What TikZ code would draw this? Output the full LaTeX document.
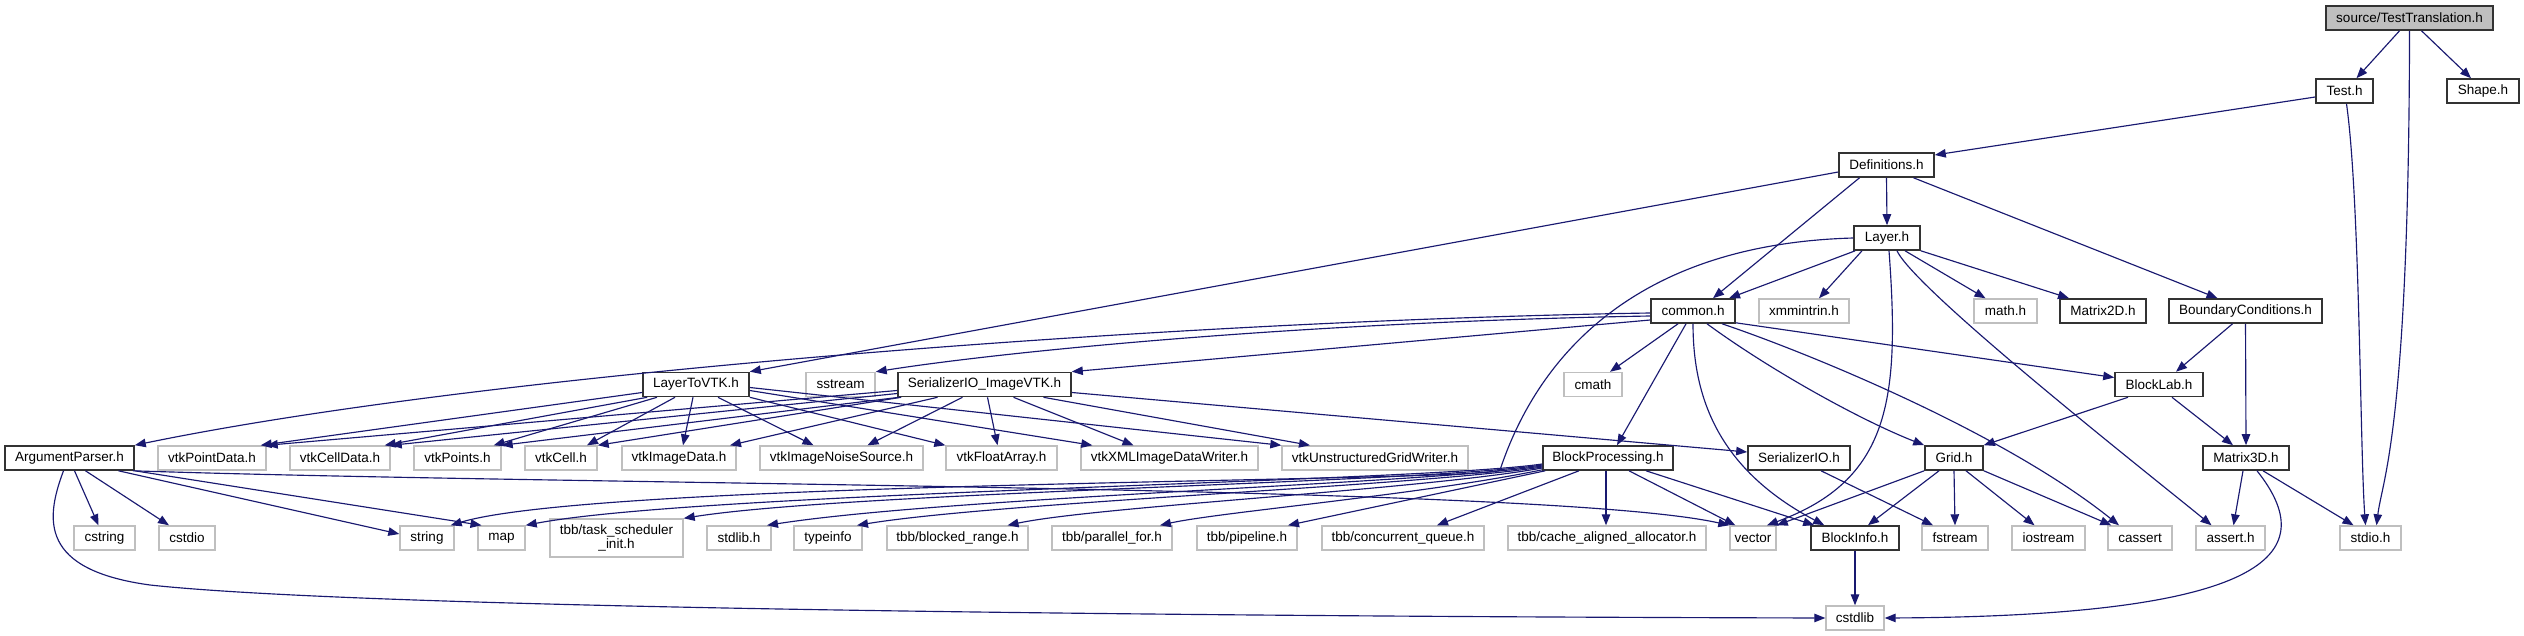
\documentclass[tikz,border=0pt]{standalone}
\usepackage{fontspec}
\setmainfont{Liberation Sans}
\usetikzlibrary{arrows.meta,calc}
\definecolor{edgec}{HTML}{191970}
\definecolor{greyb}{HTML}{BFBFBF}
\definecolor{docb}{HTML}{333333}
\begin{document}
\begin{tikzpicture}[x=1pt,y=-1pt,
  base/.style={rectangle, minimum height=24pt, inner sep=0pt, font=\fontsize{13.5}{14}\selectfont, text=black, fill=white},
  doc/.style={base, draw=docb, line width=1.6pt},
  sys/.style={base, draw=greyb, line width=1.4pt},
  e/.style={draw=edgec, line width=1.15pt, -{Triangle[length=11pt,width=8.5pt]}},
]
\useasboundingbox (0,0) rectangle (2524,636);
% row 1-4
\node[doc,fill=greyb,minimum width=167pt] (source) at (2409.5,18) {source/TestTranslation.h};
\node[doc,minimum width=57pt] (test) at (2344.5,91) {Test.h};
\node[doc,minimum width=72pt] (shape) at (2483,91) {Shape.h};
\node[doc,minimum width=95pt] (defs) at (1886.5,165) {Definitions.h};
\node[doc,minimum width=66pt] (layer) at (1887,238) {Layer.h};
\node[doc,minimum width=84pt] (common) at (1693,311) {common.h};
\node[sys,minimum width=90pt] (xmm) at (1804,311) {xmmintrin.h};
\node[sys,minimum width=63pt] (mathh) at (2005.5,311) {math.h};
\node[doc,minimum width=86pt] (matrix2d) at (2103,311) {Matrix2D.h};
\node[doc,minimum width=153pt] (boundary) at (2245.5,311) {BoundaryConditions.h};
\node[doc,minimum width=106pt] (ltv) at (696,384.5) {LayerToVTK.h};
\node[sys,minimum width=69pt] (sstream) at (840.5,384.5) {sstream};
\node[doc,minimum width=173pt] (serimg) at (984.5,384.5) {SerializerIO\_ImageVTK.h};
\node[sys,minimum width=58pt] (cmath) at (1593,384.5) {cmath};
\node[doc,minimum width=88pt] (blocklab) at (2159,384.5) {BlockLab.h};
% row 458
\node[doc,minimum width=129pt] (argparser) at (69.5,458) {ArgumentParser.h};
\node[sys,minimum width=108pt] (vtkpointdata) at (212,458) {vtkPointData.h};
\node[sys,minimum width=100pt] (vtkcelldata) at (340,458) {vtkCellData.h};
\node[sys,minimum width=87pt] (vtkpoints) at (457.5,458) {vtkPoints.h};
\node[sys,minimum width=72pt] (vtkcell) at (561,458) {vtkCell.h};
\node[sys,minimum width=114pt] (vtkimagedata) at (679,458) {vtkImageData.h};
\node[sys,minimum width=163pt] (vtknoise) at (841.5,458) {vtkImageNoiseSource.h};
\node[sys,minimum width=111pt] (vtkfloat) at (1001.5,458) {vtkFloatArray.h};
\node[sys,minimum width=177pt] (vtkxml) at (1169.5,458) {vtkXMLImageDataWriter.h};
\node[sys,minimum width=186pt] (vtkugw) at (1375,458) {vtkUnstructuredGridWriter.h};
\node[doc,minimum width=130pt] (blockproc) at (1608,458) {BlockProcessing.h};
\node[doc,minimum width=102pt] (serio) at (1799,458) {SerializerIO.h};
\node[doc,minimum width=58pt] (grid) at (1954,458) {Grid.h};
\node[doc,minimum width=86pt] (matrix3d) at (2246,458) {Matrix3D.h};
% row 538
\node[sys,minimum width=61pt] (cstring) at (104.5,538) {cstring};
\node[sys,minimum width=56pt] (cstdio) at (187,538) {cstdio};
\node[sys,minimum width=54pt] (string) at (427,538) {string};
\node[sys,minimum width=47pt] (map) at (501.5,538) {map};
\node[sys,minimum width=133pt,minimum height=38pt,align=center] (taskinit) at (616.5,538) {tbb/task\_scheduler\\\_init.h};
\node[sys,minimum width=64pt] (stdlib) at (739,538) {stdlib.h};
\node[sys,minimum width=68pt] (typeinfo) at (828,538) {typeinfo};
\node[sys,minimum width=141pt] (blockedrange) at (957.5,538) {tbb/blocked\_range.h};
\node[sys,minimum width=120pt] (parallelfor) at (1112,538) {tbb/parallel\_for.h};
\node[sys,minimum width=100pt] (pipeline) at (1247,538) {tbb/pipeline.h};
\node[sys,minimum width=162pt] (concqueue) at (1403,538) {tbb/concurrent\_queue.h};
\node[sys,minimum width=198pt] (cachealloc) at (1607,538) {tbb/cache\_aligned\_allocator.h};
\node[sys,minimum width=46pt] (vector) at (1753,538) {vector};
\node[doc,minimum width=88pt] (blockinfo) at (1855,538) {BlockInfo.h};
\node[sys,minimum width=66pt] (fstream) at (1955,538) {fstream};
\node[sys,minimum width=73pt] (iostream) at (2048.5,538) {iostream};
\node[sys,minimum width=64pt] (cassert) at (2140,538) {cassert};
\node[sys,minimum width=69pt] (asserth) at (2230.5,538) {assert.h};
\node[sys,minimum width=61pt] (stdio) at (2370.5,538) {stdio.h};
\node[sys,minimum width=58pt] (cstdlib) at (1855,618) {cstdlib};

% ---- edges ----
% source
\draw[e] ($(source.south)+(-10,0)$) -- ($(test.north)+(12,0)$);
\draw[e] ($(source.south)+(12,0)$) -- ($(shape.north)+(-12,0)$);
\draw[e] (source.south) .. controls (2409,430) and (2382,480) .. ($(stdio.north)+(6,0)$);
% Test
\draw[e] ($(test.west)+(0,6)$) -- ($(defs.east)+(0,-10)$);
\draw[e] ($(test.south)+(2,0)$) .. controls (2360,200) and (2360,450) .. ($(stdio.north)+(-5,0)$);
% Definitions
\draw[e] (defs.south) -- (layer.north);
\draw[e] ($(defs.south)+(-27,0)$) -- ($(common.north)+(20,0)$);
\draw[e] ($(defs.west)+(0,7)$) -- (ltv.north east);
\draw[e] ($(defs.south)+(27,0)$) -- ($(boundary.north)+(-28,0)$);
% Layer
\draw[e] ($(layer.south west)+(2,0)$) -- ($(common.north)+(36,0)$);
\draw[e] ($(layer.south)+(-25,0)$) -- ($(xmm.north)+(15,0)$);
\draw[e] ($(layer.south)+(18,0)$) -- ($(mathh.north)+(-20,0)$);
\draw[e] (layer.south east) -- ($(matrix2d.north)+(-34,0)$);
\draw[e] ($(layer.south)+(10,0)$) .. controls (1915,290) and (2150,475) .. ($(asserth.north)+(-19,0)$);
\draw[e] ($(layer.south)+(2,0)$) .. controls (1900,400) and (1890,480) .. ($(vector.north)+(14,0)$);
\draw[e] (layer.west) .. controls (1600,245) and (1525,395) .. (1500,470)
   .. controls (1494,482) and (600,480) .. ($(string.north east)+(-4,0)$);
% BoundaryConditions, BlockLab, Matrix3D
\draw[e] ($(boundary.south)+(-13,0)$) -- ($(blocklab.north)+(17,0)$);
\draw[e] (boundary.south) -- (matrix3d.north);
\draw[e] ($(blocklab.south)+(-31,0)$) -- (grid.north east);
\draw[e] ($(blocklab.south)+(13,0)$) -- ($(matrix3d.north)+(-13,0)$);
\draw[e] ($(matrix3d.south)+(-3,0)$) -- ($(asserth.north)+(3,0)$);
\draw[e] ($(matrix3d.south)+(17,0)$) -- ($(stdio.north)+(-17,0)$);
\draw[e] ($(matrix3d.south)+(11,0)$) .. controls (2320,550) and (2280,616) .. (cstdlib.east);
% Grid
\draw[e] ($(grid.south)+(-15,0)$) -- ($(blockinfo.north)+(13,0)$);
\draw[e] (grid.south) -- (fstream.north);
\draw[e] ($(grid.south)+(12,0)$) -- ($(iostream.north)+(-14,0)$);
\draw[e] (grid.south east) -- ($(cassert.north west)+(4,0)$);
\draw[e] (grid.south west) -- (vector.north east);
\draw[e] (blockinfo.south) -- (cstdlib.north);
\draw[e] ($(serio.south)+(22,0)$) -- ($(fstream.north)+(-22,0)$);
% common
\draw[e] ($(common.west)+(0,2)$) .. controls (1200,320) and (500,370) .. (argparser.north east);
\draw[e] ($(common.west)+(0,5)$) .. controls (1300,322) and (1000,352) .. (sstream.north east);
\draw[e] ($(common.west)+(0,9)$) -- (serimg.north east);
\draw[e] ($(common.south)+(-15,0)$) -- ($(cmath.north)+(17,0)$);
\draw[e] ($(common.south)+(-7,0)$) -- ($(blockproc.north)+(9,0)$);
\draw[e] (common.south) .. controls (1693,400) and (1720,470) .. ($(blockinfo.north west)+(14,0)$);
\draw[e] ($(common.south)+(14,0)$) .. controls (1770,370) and (1860,420) .. (grid.north west);
\draw[e] ($(common.south)+(29,0)$) .. controls (1800,350) and (2000,430) .. ($(cassert.north)+(-21,0)$);
\draw[e] ($(common.south east)+(0,-1)$) -- ($(blocklab.west)+(0,-7)$);
% ArgumentParser
\draw[e] ($(argparser.south)+(5,0)$) -- ($(cstring.north)+(-6,0)$);
\draw[e] ($(argparser.south)+(16,0)$) -- ($(cstdio.north)+(-18,0)$);
\draw[e] ($(argparser.south)+(49,0)$) -- ($(string.west)+(0,-4)$);
\draw[e] (argparser.south east) -- ($(map.north)+(-20,0)$);
\draw[e] ($(argparser.south east)+(-2,0)$) .. controls (600,486) and (1550,485) .. (vector.north west);
\draw[e] ($(argparser.south)+(-6,0)$) .. controls (45,520) and (40,570) .. (150,585)
   .. controls (400,612) and (1400,617) .. (cstdlib.west);
% LayerToVTK
\draw[e] ($(ltv.west)+(0,8)$) -- ($(vtkpointdata.north east)+(-6,0)$);
\draw[e] ($(ltv.south west)+(5,0)$) -- ($(vtkcelldata.north east)+(-6,0)$);
\draw[e] ($(ltv.south)+(-39,0)$) -- ($(vtkpoints.north east)+(-8,0)$);
\draw[e] ($(ltv.south)+(-21,0)$) -- ($(vtkcell.north)+(26,0)$);
\draw[e] ($(ltv.south)+(-3,0)$) -- ($(vtkimagedata.north)+(4,0)$);
\draw[e] ($(ltv.south)+(22,0)$) -- ($(vtknoise.north)+(-28,0)$);
\draw[e] (ltv.south east) -- (vtkfloat.north west);
\draw[e] ($(ltv.east)+(0,6)$) -- ($(vtkxml.north west)+(12,0)$);
\draw[e] ($(ltv.east)+(0,3)$) -- (vtkugw.north west);
% SerializerIO_ImageVTK
\draw[e] ($(serimg.west)+(0,6)$) -- (vtkpointdata.north east);
\draw[e] ($(serimg.west)+(0,9)$) -- (vtkcelldata.north east);
\draw[e] ($(serimg.south west)+(2,0)$) -- (vtkpoints.north east);
\draw[e] ($(serimg.south west)+(4,0)$) -- (vtkcell.north east);
\draw[e] ($(serimg.south)+(-47,0)$) -- ($(vtkimagedata.north)+(51,0)$);
\draw[e] ($(serimg.south)+(-22,0)$) -- ($(vtknoise.north)+(26,0)$);
\draw[e] ($(serimg.south)+(3,0)$) -- ($(vtkfloat.north)+(-4,0)$);
\draw[e] ($(serimg.south)+(29,0)$) -- ($(vtkxml.north)+(-36,0)$);
\draw[e] ($(serimg.south)+(59,0)$) -- ($(vtkugw.north)+(-65,0)$);
\draw[e] ($(serimg.east)+(0,8)$) -- ($(serio.west)+(0,-6)$);
% BlockProcessing
\draw[e] ($(blockproc.west)+(0,6)$) .. controls (1420,482) and (700,492) .. (map.north east);
\draw[e] ($(blockproc.west)+(0,7)$) .. controls (1420,483) and (850,492) .. (taskinit.north east);
\draw[e] ($(blockproc.west)+(0,8)$) .. controls (1420,484) and (950,497) .. ($(stdlib.north)+(28,0)$);
\draw[e] ($(blockproc.west)+(0,9)$) .. controls (1420,486) and (1000,502) .. ($(typeinfo.north)+(29,0)$);
\draw[e] ($(blockproc.west)+(0,10)$) .. controls (1420,490) and (1100,506) .. ($(blockedrange.north)+(50,0)$);
\draw[e] ($(blockproc.south west)+(0,-1)$) .. controls (1420,495) and (1220,512) .. ($(parallelfor.north)+(48,0)$);
\draw[e] ($(blockproc.south west)+(3,0)$) -- ($(pipeline.north)+(41,0)$);
\draw[e] ($(blockproc.south)+(-29,0)$) -- ($(concqueue.north)+(34,0)$);
\draw[e] ($(blockproc.south)+(-2,0)$) -- ($(cachealloc.north)+(-1,0)$);
\draw[e] ($(blockproc.south)+(21,0)$) -- ($(vector.north west)+(6,0)$);
\draw[e] ($(blockproc.south)+(38,0)$) -- ($(blockinfo.north west)+(4,0)$);
\end{tikzpicture}
\end{document}
